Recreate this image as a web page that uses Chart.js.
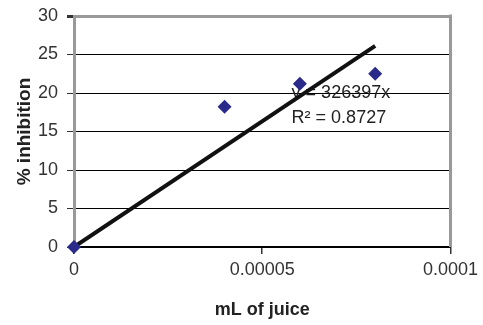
<!DOCTYPE html>
<html><head><meta charset="utf-8">
<script src="https://cdn.jsdelivr.net/npm/chart.js@4/dist/chart.umd.min.js"></script>
<style>html,body{margin:0;padding:0;background:#fff}#c{display:block}</style>
</head><body>
<canvas id="c" width="483" height="325"></canvas>
<script>
const juiceML = [0, 0.00004, 0.00006, 0.00008];
const inhibition = [0, 18.2, 21.2, 22.5];
const trendSlope = 326397;
const trendX = [0, 0.00008];
const yTicks = [0, 5, 10, 15, 20, 25, 30];
const xTicks = [0, 0.00005, 0.0001];
const xTickLabels = ['0', '0.00005', '0.0001'];
const eqLabel = 'y = 326397x';
const r2Label = 'R² = 0.8727';

const FONT = '"Liberation Sans", Arial, sans-serif';

const labelPlugin = {
  id: 'eq',
  beforeDatasetsDraw(chart) {
    const ctx = chart.ctx, xs = chart.scales.x, ys = chart.scales.y;
    ctx.save();
    ctx.font = '18px ' + FONT;
    ctx.fillStyle = '#222';
    ctx.textBaseline = 'middle';
    ctx.fillText(eqLabel, xs.getPixelForValue(0.0000578), ys.getPixelForValue(20.0));
    ctx.fillText(r2Label, xs.getPixelForValue(0.0000578), ys.getPixelForValue(16.8));
    ctx.restore();
  },
  afterDatasetsDraw(chart) {
    const ctx = chart.ctx, xs = chart.scales.x, ys = chart.scales.y;
    ctx.save();
    ctx.strokeStyle = '#999';
    ctx.lineWidth = 3;
    ctx.beginPath();
    ctx.moveTo(xs.right, ys.top - 1.5);
    ctx.lineTo(xs.right, ys.bottom);
    ctx.stroke();
    ctx.restore();
  }
};

new Chart(document.getElementById('c'), {
  type: 'scatter',
  data: {
    datasets: [
      {
        data: juiceML.map((x, i) => ({x, y: inhibition[i]})),
        pointStyle: 'rectRot', pointRadius: 7, pointHoverRadius: 7,
        backgroundColor: '#2a2a8a', borderColor: '#2a2a8a', borderWidth: 0,
        clip: false,
        order: 0
      },
      {
        type: 'line',
        data: trendX.map(x => ({x, y: trendSlope * x})),
        borderColor: '#111', borderWidth: 4, pointRadius: 0, fill: false,
        order: 1
      }
    ]
  },
  options: {
    responsive: false, animation: false,
    plugins: { legend: {display: false}, tooltip: {enabled: false} },
    layout: { padding: {top: 16, right: 32, left: 0, bottom: 0} },
    scales: {
      x: {
        type: 'linear', min: 0, max: 0.0001,
        afterBuildTicks: s => { s.ticks = xTicks.map(v => ({value: v})); },
        afterFit: s => { s.height = 325 - 247; s.paddingTop = 0; },
        border: {color: '#000', width: 1.5},
        grid: { drawOnChartArea: false, tickColor: '#333', tickLength: 7, lineWidth: 1.5 },
        ticks: { color: '#333', font: {size: 18, family: FONT}, padding: 5, maxRotation: 0,
          callback: (v, i) => xTickLabels[i] },
        title: { display: true, text: 'mL of juice', color: '#222', font: {size: 18, weight: 'bold', family: FONT}, padding: {top: 0, bottom: 4} }
      },
      y: {
        min: 0, max: 30,
        afterBuildTicks: s => { s.ticks = yTicks.map(v => ({value: v})); },
        afterFit: s => { s.width = 74; s.paddingTop = 0; s.paddingBottom = 0; },
        border: {color: '#999', width: 3},
        grid: {
          color: c => c.tick.value === 30 ? '#999' : '#000',
          lineWidth: c => c.tick.value === 30 ? 3 : 1,
          tickColor: '#333', tickLength: 7
        },
        ticks: { color: '#333', font: {size: 18, family: FONT}, padding: 9 },
        title: { display: true, text: '% inhibition', color: '#222', font: {size: 19, weight: 'bold', family: FONT}, padding: {top: 13, bottom: 0} }
      }
    }
  },
  plugins: [labelPlugin]
});
</script>
</body></html>
